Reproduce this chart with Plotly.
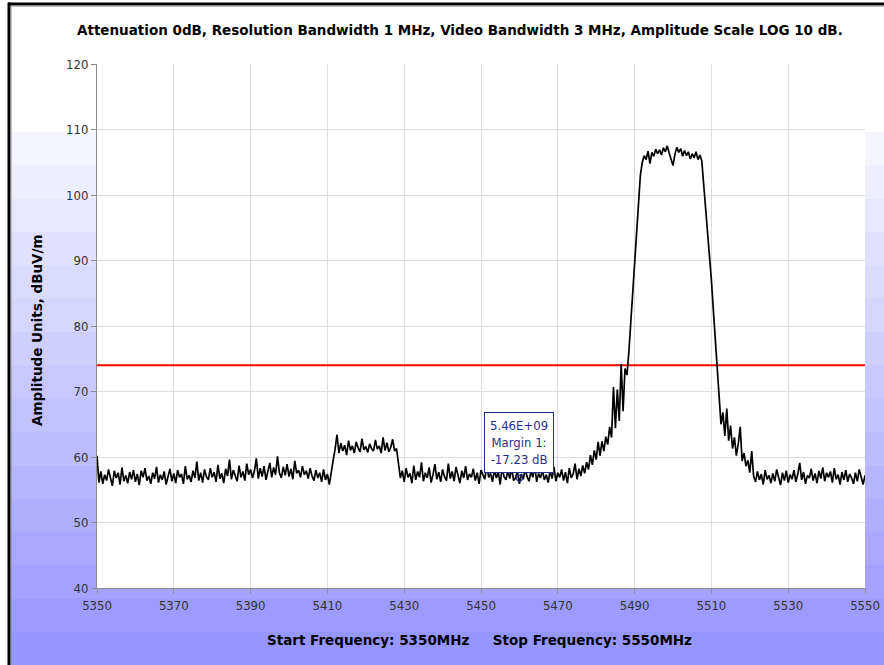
import plotly.graph_objects as go

# ---------------- data ----------------
start_mhz = 5350
stop_mhz = 5550
step_mhz = 0.5

# trace amplitudes (dBuV/m), 0.5 MHz per point
floor_a = [
    60.2, 56.1, 57.8, 55.9, 57.3, 56.4, 58.1, 56.7, 55.6, 57.9,
    56.8, 57.6, 55.8, 58.4, 56.3, 57.2, 56.0, 57.7, 56.6, 58.0,
    56.2, 57.4, 55.7, 57.9, 56.9, 58.3, 56.4, 57.1, 55.9, 57.6,
    56.7, 58.5, 56.1, 57.3, 56.5, 57.8, 55.8, 57.0, 58.2, 56.3,
    57.5, 56.0, 58.0, 56.9, 57.4, 55.9, 58.6, 56.6, 57.2, 56.2,
    57.9, 56.8, 59.3, 56.4, 57.6, 56.1, 58.1, 57.0, 56.5, 58.3,
    56.9, 57.7, 56.2, 58.8, 56.7, 57.5, 56.0, 58.2, 57.1, 59.6,
    56.6, 58.0, 57.2, 56.3, 58.7, 56.9, 57.8, 56.4, 59.0, 57.3,
    58.1, 56.8, 57.9, 59.8, 56.7, 58.3, 57.0, 58.6, 56.5, 57.7,
    59.1, 56.9, 58.4, 57.3, 60.1, 57.6, 56.8, 58.5, 57.2, 58.9,
    57.0, 58.2, 56.6, 59.4, 57.5, 58.0, 56.9, 58.6, 57.3, 57.9,
    56.7, 58.3, 57.1, 56.4, 58.0, 56.8, 57.6, 56.2, 58.1, 56.5,
    57.4, 55.8, 57.9, 59.5,
]
signal_low = [
    61.2, 63.4, 60.6, 62.1, 60.9, 61.8, 60.3, 62.5, 61.0, 61.7,
    60.6, 62.3, 61.4, 60.8, 62.8, 61.1, 61.6, 60.7, 62.0, 61.3,
    60.9, 62.6, 61.2, 61.7, 60.6, 63.0, 61.0, 62.2, 60.8, 61.5,
    62.7, 60.9, 61.3,
]
floor_b = [
    58.6, 56.8, 57.9, 56.2, 58.3, 56.9, 57.5, 56.0, 58.7,
    56.5, 57.8, 56.9, 59.2, 56.3, 57.6, 56.8, 58.4, 56.1, 57.3,
    58.9, 56.6, 57.7, 56.2, 58.1, 57.0, 56.4, 59.0, 56.7, 57.8,
    56.3, 58.5, 57.1, 56.0, 57.9, 56.8, 58.6, 56.5, 57.4, 56.9,
    58.2, 56.4, 57.6, 55.9, 58.0, 57.2, 56.6, 58.8, 56.9, 57.5,
    56.2, 58.1, 56.8, 57.7, 55.8, 58.4, 57.0, 56.5, 57.9, 56.7,
    58.3, 56.4, 56.8, 57.9, 55.9, 57.4, 56.6, 58.2, 57.0, 56.3,
    57.8, 56.9, 58.6, 56.2, 57.5, 56.8, 58.0, 56.5, 57.3, 56.1,
    57.9, 56.7, 58.5, 56.3, 57.6, 56.9, 58.1, 56.4, 57.7, 56.0,
    58.3, 56.8, 57.4, 59.0, 56.6, 58.2, 57.1, 58.7, 57.5, 59.2,
]
rising_edge = [
    58.1, 60.3, 58.8, 61.0, 59.6, 62.3, 60.2, 62.4, 60.9, 63.1,
    61.9, 64.6, 63.0, 70.7, 64.4, 70.3, 65.5, 74.2, 67.0, 73.5,
    72.5, 76.0, 80.5, 85.5, 90.5, 95.0, 99.8, 103.0, 105.0,
]
signal_top = [
    106.0, 105.4, 106.7, 104.8, 106.5, 105.9, 107.0, 106.3, 106.9, 106.1,
    107.2, 106.6, 107.5, 106.4, 105.6, 104.5, 106.2, 107.3, 106.5, 107.1,
    105.9, 106.8, 106.0, 106.6, 105.5, 106.3, 105.7, 106.6, 105.4, 106.1,
    105.2,
]
falling_edge = [
    101.5, 98.5, 95.5, 91.5, 87.0, 82.5, 78.0, 72.5, 68.5, 65.0,
    66.8, 63.2, 67.4, 62.5, 64.8, 61.3, 63.0, 60.2, 62.0, 64.6,
    59.4, 60.6, 58.6, 59.5, 57.6, 60.9, 57.0,
]
floor_c = [
    56.2, 57.8, 56.5, 57.4, 55.8, 58.0, 56.6, 57.2, 56.0,
    57.5, 56.3, 58.1, 56.8, 55.7, 57.6, 56.4, 57.9, 56.1, 57.3,
    56.6, 58.0, 56.2, 57.4, 59.1, 56.5, 57.7, 55.9, 57.2, 56.8,
    58.2, 56.4, 57.5, 56.0, 57.9, 56.7, 58.4, 56.3, 57.6, 56.9,
    57.8, 56.1, 58.3, 56.6, 57.3, 55.8, 57.7, 56.5, 58.0, 56.2,
    57.4, 56.8, 55.9, 57.6, 56.3, 58.1, 56.7, 55.8, 57.2,
]

limit_dbuv = 74.0
marker_mhz = 5460
marker_margin_db = -17.23

y_ticks = [40, 50, 60, 70, 80, 90, 100, 110, 120]
x_ticks = [5350, 5370, 5390, 5410, 5430, 5450, 5470, 5490, 5510, 5530, 5550]

title_text = "Attenuation 0dB, Resolution Bandwidth 1 MHz, Video Bandwidth 3 MHz, Amplitude Scale LOG 10 dB."
y_title = "Amplitude Units, dBuV/m"
x_title = f"Start Frequency: {start_mhz}MHz\u00a0\u00a0\u00a0\u00a0 Stop Frequency: {stop_mhz}MHz"

# ---------------- build ----------------
amps = floor_a + signal_low + floor_b + rising_edge + signal_top + falling_edge + floor_c
freqs = [start_mhz + step_mhz * i for i in range(len(amps))]
marker_level = limit_dbuv + marker_margin_db

W, H = 884, 665
L, R, T, B = 97, 19, 64, 77
PW, PH = W - L - R, H - T - B

def px_x(X):
    return (X - L) / PW

def px_y(Y):
    return (H - B - Y) / PH

FONT = "DejaVu Sans Condensed, DejaVu Sans, sans-serif"
BOLD_FONT = "DejaVu Sans, sans-serif"
NAVY = "#1f2f8f"

fig = go.Figure()

fig.add_trace(go.Scatter(
    x=[start_mhz, stop_mhz], y=[limit_dbuv, limit_dbuv], mode="lines",
    line=dict(color="#ff0000", width=2), hoverinfo="skip", showlegend=False))

fig.add_trace(go.Scatter(
    x=freqs, y=amps, mode="lines",
    line=dict(color="#000000", width=1.7), showlegend=False))

fig.add_trace(go.Scatter(
    x=[marker_mhz], y=[marker_level], mode="markers",
    marker=dict(symbol="circle-open", size=6, color=NAVY, line=dict(width=1.2)),
    showlegend=False))

# background gradient bands
shapes = []
band_top, band_bot = 132, 665
n_bands = 16
c0, c1 = (244, 244, 255), (150, 150, 255)
for i in range(n_bands):
    y0 = band_top + (band_bot - band_top) * i / n_bands
    y1 = band_top + (band_bot - band_top) * (i + 1) / n_bands
    t = i / (n_bands - 1)
    col = "rgb({},{},{})".format(*[round(a + (b - a) * t) for a, b in zip(c0, c1)])
    shapes.append(dict(type="rect", xref="paper", yref="paper",
                       x0=px_x(10), x1=px_x(W + 2), y0=px_y(y1 + 0.5), y1=px_y(y0),
                       fillcolor=col, line=dict(width=0), layer="below"))
# white plot area
shapes.append(dict(type="rect", xref="paper", yref="paper", x0=0, x1=1, y0=0, y1=1,
                   fillcolor="white", line=dict(width=0), layer="below"))
# panel frame (black + grey inner)
shapes.append(dict(type="line", xref="paper", yref="paper",
                   x0=px_x(8), x1=px_x(W + 5), y0=px_y(4), y1=px_y(4),
                   line=dict(color="black", width=3), layer="above"))
shapes.append(dict(type="line", xref="paper", yref="paper",
                   x0=px_x(9), x1=px_x(9), y0=px_y(2.5), y1=px_y(H + 5),
                   line=dict(color="black", width=3), layer="above"))
shapes.append(dict(type="line", xref="paper", yref="paper",
                   x0=px_x(11), x1=px_x(W + 5), y0=px_y(6), y1=px_y(6),
                   line=dict(color="#8a8a8a", width=1), layer="above"))
shapes.append(dict(type="line", xref="paper", yref="paper",
                   x0=px_x(11), x1=px_x(11), y0=px_y(6), y1=px_y(H + 5),
                   line=dict(color="#8a8a8a", width=1), layer="above"))

marker_label = f"{marker_mhz * 1e6:.2E}<br>Margin 1:<br>{marker_margin_db:.2f} dB"

annotations = [
    dict(text=marker_label,
         x=marker_mhz, y=marker_level, xref="x", yref="y", showarrow=False,
         xanchor="center", yanchor="bottom", yshift=5, align="center",
         font=dict(family=FONT, size=13, color=NAVY),
         bgcolor="white", bordercolor=NAVY, borderwidth=1, borderpad=5),
    dict(text=f"<b>{y_title}</b>", x=px_x(37), y=px_y(330), xref="paper", yref="paper",
         showarrow=False, textangle=-90, xanchor="center", yanchor="middle",
         font=dict(family=BOLD_FONT, size=13.5, color="black")),
    dict(text=f"<b>{x_title}</b>", x=px_x(479), y=px_y(640), xref="paper", yref="paper",
         showarrow=False, xanchor="center", yanchor="middle",
         font=dict(family=BOLD_FONT, size=13.5, color="black")),
    dict(text=f"<b>{title_text}</b>", x=px_x(460), y=px_y(30), xref="paper", yref="paper",
         showarrow=False, xanchor="center", yanchor="middle",
         font=dict(family=BOLD_FONT, size=13.5, color="black")),
]

axis_common = dict(showgrid=True, gridcolor="#dcdcdc", gridwidth=1,
                   showline=True, linecolor="#8c8c8c", linewidth=1,
                   ticks="outside", ticklen=5, tickcolor="#8c8c8c",
                   tickfont=dict(family=FONT, size=13, color="#333333"),
                   zeroline=False, fixedrange=True, automargin=False)

fig.update_layout(
    width=W, height=H, autosize=False,
    margin=dict(l=L, r=R, t=T, b=B, pad=0, autoexpand=False),
    paper_bgcolor="white", plot_bgcolor="rgba(0,0,0,0)",
    xaxis=dict(range=[start_mhz, stop_mhz], tickmode="array", tickvals=x_ticks,
               ticktext=[str(v) for v in x_ticks], **axis_common),
    yaxis=dict(range=[y_ticks[0], y_ticks[-1]], tickmode="array", tickvals=y_ticks,
               ticktext=[str(v) for v in y_ticks], **axis_common),
    shapes=shapes, annotations=annotations,
    showlegend=False,
)

fig.write_html("out.html", config=dict(displayModeBar=False, responsive=False),
               post_script="document.body.style.margin='0px';document.body.style.overflow='hidden';")
